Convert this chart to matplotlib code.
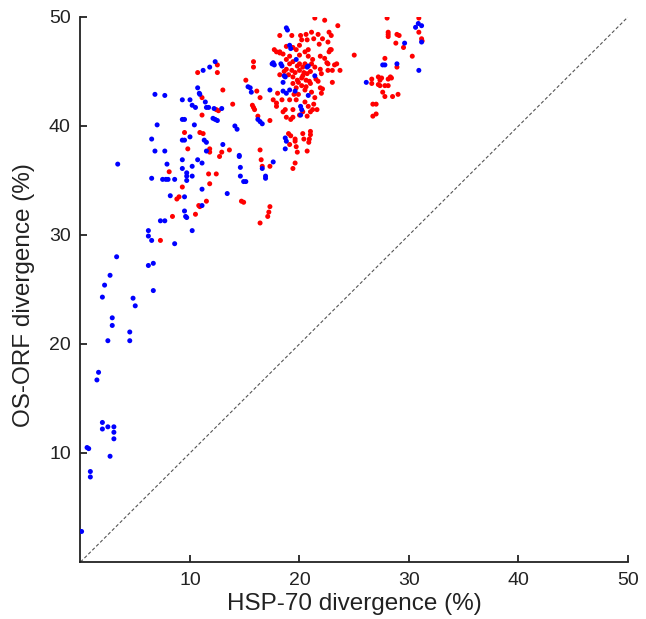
import matplotlib
matplotlib.use("Agg")
import matplotlib.pyplot as plt

plt.rcParams['font.family'] = ['Liberation Sans', 'DejaVu Sans']

# Blue series
blue_x = [0.1, 0.6, 0.75, 0.9, 0.9, 2.7, 2.0, 2.0, 2.5, 3.05, 3.05, 3.05, 1.65, 1.5, 2.5, 4.5, 4.5,
          2.9, 2.9, 5.0, 4.8, 2.0, 2.2, 2.7, 6.65, 3.3, 6.2, 6.65, 6.2, 6.2, 6.5, 8.6, 10.2, 7.3, 7.7,
          9.5, 9.6, 9.7,
          6.8, 7.7, 10.7, 10.9, 11.4, 9.3, 10.0, 10.2, 10.5, 11.5, 7.0, 9.3, 9.5, 10.4, 6.5, 9.3, 9.5,
          10.0, 11.3, 11.5, 6.8, 7.7, 11.5, 3.4, 7.9, 9.3, 10.7, 11.1, 9.3, 9.7, 9.7, 9.7, 10.2, 10.2,
          6.5, 7.5, 7.8, 8.0, 8.6, 11.1, 8.2, 9.5, 11.1,
          12.3, 11.8, 11.2, 11.7, 12.2, 12.9, 12.1, 12.3, 12.5, 13.0, 14.1, 14.3, 14.5, 14.5, 14.6,
          14.6, 14.9, 15.1, 13.4, 10.85,
          15.3, 15.5, 15.6, 16.2, 16.4, 16.6, 16.6, 16.9, 16.9, 17.6, 17.3,
          17.6, 18.3, 17.5, 17.7, 19.7, 20.8, 21.4, 18.7, 18.5, 18.5, 18.8, 19.1, 20.8, 20.1, 20.2,
          20.1, 18.8, 18.9, 19.1, 19.2, 20.7, 18.7, 18.8, 18.7, 19.6, 18.4, 18.6,
          30.85, 30.6, 31.15, 31.15, 29.6, 27.6, 27.8, 28.9, 30.9, 26.1]
blue_y = [2.8, 10.5, 10.4, 8.3, 7.8, 9.7, 12.8, 12.2, 12.4, 12.4, 11.9, 11.3, 17.4, 16.7, 20.3, 20.3, 21.1,
          22.4, 21.7, 23.5, 24.2, 24.3, 25.4, 26.3, 24.9, 28.0, 27.2, 27.4, 30.4, 29.9, 29.5, 29.2, 30.4, 31.3, 31.3,
          32.2, 31.7, 31.6,
          42.9, 42.8, 43.5, 42.9, 42.2, 42.4, 42.4, 41.9, 41.7, 41.7, 40.1, 40.6, 40.6, 40.1, 38.8, 38.7, 38.7,
          39.0, 38.7, 38.5, 37.7, 37.7, 37.7, 36.5, 36.5, 36.9, 36.9, 36.6, 36.1, 35.7, 35.4, 35.0, 36.3, 35.4,
          35.2, 35.1, 35.1, 35.1, 35.1, 34.2, 33.6, 33.5, 32.7,
          45.9, 45.4, 45.1, 41.7, 41.6, 41.6, 40.7, 40.6, 40.5, 38.3, 40.0, 39.7, 37.3, 37.2, 36.2,
          35.4, 34.9, 34.9, 33.8, 43.0,
          43.6, 43.5, 43.1, 40.6, 40.4, 40.2, 36.1, 35.4, 35.2, 36.7, 43.3,
          45.8, 45.7, 45.7, 45.6, 46.1, 45.5, 44.6, 44.5, 44.0, 43.2, 43.0, 43.3, 42.8, 41.8, 41.5,
          41.0, 49.0, 48.8, 47.4, 47.1, 45.4, 38.9, 38.6, 37.9, 43.2, 45.5, 44.6,
          49.4, 49.05, 49.2, 47.7, 47.6, 45.6, 45.6, 45.7, 45.1, 44.0]

# Red series
red_x = [8.4, 10.5, 7.3, 11.1, 11.1, 9.5, 10.9, 9.8, 8.1, 9.3, 8.8, 9.0, 10.8, 10.9, 11.5, 12.5, 12.5,
         10.7, 13.0, 12.4, 13.9, 11.2, 11.8, 11.8, 12.7, 12.9, 13.6, 12.4, 11.8, 11.7, 14.7, 14.9, 12.6,
         16.4, 16.5, 17.3, 17.3, 17.2, 17.1, 16.4, 16.6,
         15.8, 15.8, 15.1, 16.1, 15.7, 15.8, 15.9, 17.3, 16.2, 18.0,
         21.4, 22.3, 23.5, 21.1, 21.7, 22.7, 22.9, 20.1, 20.6, 18.2, 19.3, 20.2, 20.7, 21.3, 22.1, 22.6,
         21.8, 22.9, 22.7, 17.7, 18.2, 18.8, 19.4, 19.7, 20.5, 20.8, 18.5, 19.1, 20.0, 21.9, 22.5, 23.4,
         25.0, 18.8, 19.1, 19.4, 19.8, 20.0, 20.5, 21.1, 18.8, 19.3, 19.6, 20.0, 20.4, 20.7, 21.0, 21.9,
         22.0, 22.6, 23.0, 23.7, 18.2, 19.0, 19.4, 19.8, 20.2, 20.6, 21.0, 19.4, 19.7, 20.2, 20.5, 21.1,
         21.4, 21.9, 22.0, 16.4, 17.6, 18.4, 19.1, 19.7, 20.5, 20.8, 21.0, 21.3, 21.6, 19.4, 18.7, 18.8,
         19.4, 20.7,
         20.0, 20.3, 21.2, 18.5, 19.0, 19.2, 19.1, 19.6, 19.6, 20.3, 20.4, 21.0, 21.0, 20.9, 20.85, 19.8,
         20.7, 19.6, 19.4,
         17.9, 18.2, 17.9, 17.9, 19.2, 19.7, 23.2, 22.6, 22.8, 23.0, 22.1,
         20.3, 20.9, 21.5, 19.9, 20.3, 21.7, 18.6, 19.9, 20.6, 21.4, 22.3, 21.2, 20.0, 19.5, 20.8,
         28.0, 30.9, 30.9, 31.15, 31.2, 28.1, 28.1, 28.1, 28.9, 29.1, 28.8, 29.5, 30.3, 27.8, 28.9,
         28.3, 28.4, 28.1, 27.2, 27.5, 27.35, 26.6, 26.6, 27.2, 27.35, 27.8, 28.1, 27.6, 27.8, 28.5,
         29.0, 26.7, 27.0, 26.7, 27.0]
red_y = [31.7, 31.9, 29.5, 42.6, 41.0, 39.4, 39.4, 37.9, 35.8, 34.4, 33.3, 33.5, 32.7, 32.6, 33.1, 45.6, 44.9,
         44.9, 43.3, 41.5, 42.0, 39.3, 37.9, 37.6, 37.2, 37.6, 37.8, 35.6, 34.7, 35.6, 33.1, 33.0, 41.4,
         37.8, 36.9, 36.3, 32.6, 32.1, 31.7, 31.1, 36.3,
         45.9, 45.4, 44.2, 43.2, 41.9, 41.7, 41.5, 40.5, 40.9, 43.0,
         49.9, 49.7, 49.2, 48.6, 48.4, 48.6, 48.3, 48.3, 48.4, 48.3, 48.3, 47.9, 47.9, 48.0, 48.0, 47.7,
         47.5, 47.0, 46.8, 47.0, 46.8, 47.3, 47.2, 47.0, 46.8, 47.0, 46.6, 46.4, 46.5, 46.4, 45.8, 45.7,
         46.5, 46.1, 45.7, 45.9, 45.5, 45.7, 45.7, 45.7, 45.2, 45.1, 44.9, 45.1, 44.9, 44.8, 45.0, 45.2,
         44.8, 45.1, 45.1, 45.1, 44.7, 44.7, 44.5, 44.2, 44.4, 44.2, 43.9, 43.9, 43.5, 43.7, 43.3, 43.1,
         42.6, 43.5, 43.0, 42.6, 42.4, 42.4, 42.4, 42.4, 42.2, 41.8, 41.3, 42.0, 41.5, 41.5, 41.5, 40.8,
         40.8, 40.9,
         41.0, 41.3, 41.5, 41.3, 39.3, 39.1, 38.3, 38.8, 38.6, 39.3, 38.8, 39.5, 39.2, 38.8, 38.5, 37.6,
         37.7, 36.6, 36.1,
         46.8, 46.7, 41.8, 42.1, 40.6, 38.1, 45.6, 45.7, 47.0, 44.0, 43.4,
         44.6, 44.1, 44.3, 44.0, 45.4, 44.1, 45.0, 42.9, 43.6, 45.4, 46.2, 46.1, 47.4, 42.9, 46.4,
         49.9, 49.9, 48.6, 48.0, 47.8, 48.6, 48.4, 48.2, 48.4, 48.3, 47.6, 47.2, 46.4, 46.2, 45.4,
         44.5, 44.4, 44.3, 44.5, 44.4, 44.2, 44.3, 43.9, 43.8, 43.7, 43.7, 43.7, 43.1, 42.7, 42.7,
         42.9, 42.0, 42.0, 40.9, 41.1]

ticks = [10, 20, 30, 40, 50]
diag = [0, 50]

fig = plt.figure(figsize=(6.46, 6.19), dpi=100)
ax = fig.add_axes([0.1246, 0.0921, 0.8475, 0.8805])

ax.plot(diag, diag, linestyle=(0, (3, 2)), color='#555555', linewidth=0.8, zorder=1)
ax.scatter(red_x, red_y, s=13, color='#ff0000', edgecolors='none', zorder=2)
ax.scatter(blue_x, blue_y, s=13, color='#0000ff', edgecolors='none', zorder=3)

ax.set_xlim(0, 50)
ax.set_ylim(0, 50)
ax.set_xticks(ticks)
ax.set_yticks(ticks)
ax.set_xticklabels([str(t) for t in ticks])
ax.set_yticklabels([str(t) for t in ticks])

for side in ['top', 'right']:
    ax.spines[side].set_visible(False)
for side in ['left', 'bottom']:
    ax.spines[side].set_linewidth(1.3)
    ax.spines[side].set_color('#222222')

ax.tick_params(direction='in', length=5, width=1.3, color='#222222',
               labelsize=14, labelcolor='#222222', pad=7)

ax.set_xlabel('HSP-70 divergence (%)', fontsize=17.5, color='#222222', labelpad=3)
ax.set_ylabel('OS-ORF divergence (%)', fontsize=17.5, color='#222222')
ax.yaxis.set_label_coords(-0.083, 0.49)

fig.savefig('out.png', dpi=100)
